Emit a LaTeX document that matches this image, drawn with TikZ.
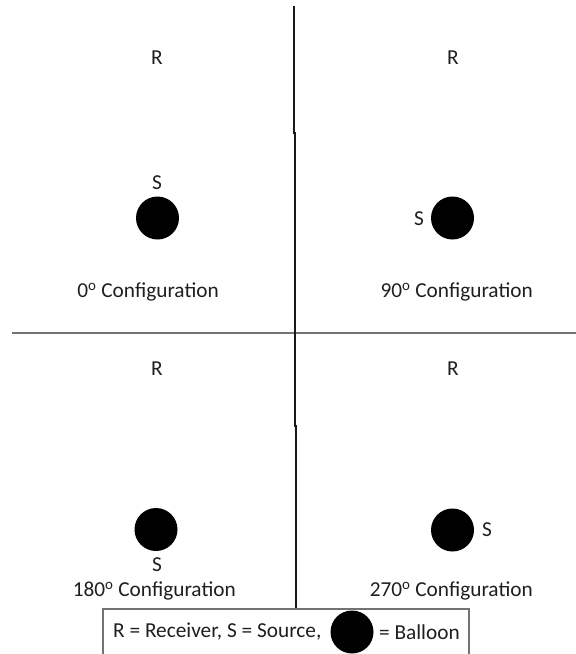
\documentclass[tikz,border=0pt]{standalone}
\usepackage{fontspec}
\setmainfont{Carlito}
\newcommand{\degsup}{\textsuperscript{o}}
\begin{document}
\begin{tikzpicture}[x=1pt,y=-1pt,
  lbl/.style={font=\fontsize{21.3}{24}\selectfont, text=black!88, inner sep=0pt},
  cfg/.style={lbl, anchor=east},
  balloon/.style={circle, fill=black, minimum size=43pt, inner sep=0pt},
  divider/.style={draw=black!55, line width=2pt},
  axis/.style={draw=black!90, line width=1.4pt}]
\useasboundingbox (0,0) rectangle (576,654);
% dividers
\coordinate (vt) at (294,6);
\coordinate (vj1) at (294,133);
\coordinate (vj2) at (295,133);
\coordinate (vj3) at (295,426);
\coordinate (vj4) at (296,426);
\coordinate (vb) at (296,609);
\coordinate (hl) at (12,333);
\coordinate (hr) at (576,333);
\draw[divider] (hl) -- (hr);
\draw[axis] (vt) -- (vj1) -- (vj2) -- (vj3) -- (vj4) -- (vb);
% 0 deg
\node[lbl] (r0) at (157,58) {R};
\node[lbl] (s0) at (157,183) {S};
\node[balloon] (b0) at (157.5,218) {};
\node[cfg] (c0) at (219,292) {0\degsup\ Configuration};
% 90 deg
\node[lbl] (r90) at (453,58) {R};
\node[lbl] (s90) at (419,219) {S};
\node[balloon] (b90) at (452.5,218) {};
\node[cfg] (c90) at (533,292) {90\degsup\ Configuration};
% 180 deg
\node[lbl] (r180) at (157,369) {R};
\node[balloon] (b180) at (156,529.5) {};
\node[lbl] (s180) at (157,565) {S};
\node[cfg] (c180) at (236,591) {180\degsup\ Configuration};
% 270 deg
\node[lbl] (r270) at (453,369) {R};
\node[balloon] (b270) at (452.5,530) {};
\node[lbl] (s270) at (487,530) {S};
\node[cfg] (c270) at (533,591) {270\degsup\ Configuration};
% legend
\draw[draw=black!55, line width=1.5pt, fill=white] (103,609) rectangle (469,660);
\node[lbl, anchor=west] (lgA) at (113,632) {R = Receiver, S = Source,};
\node[balloon] (lgB) at (352,632) {};
\node[lbl, anchor=east] (lgC) at (460,632) {= Balloon};
\end{tikzpicture}
\end{document}
